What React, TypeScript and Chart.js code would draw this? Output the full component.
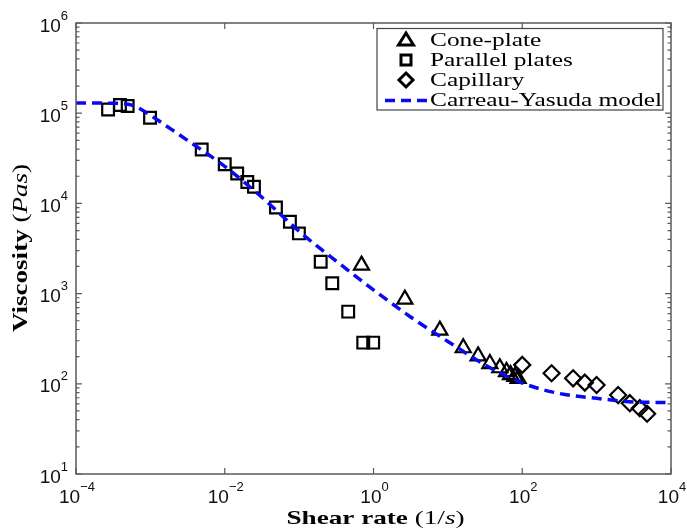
import React, { useEffect, useRef } from 'react';
import { Chart, registerables } from 'chart.js';

Chart.register(...registerables);

// ---------- data ----------
const conePlateX = [0.69, 2.64, 7.8, 16.1, 25.5, 36.7, 50, 61.5, 69.6, 79.6, 88];
const conePlateY = [2060, 865, 392, 250, 203, 167, 150, 136, 126, 120, 114];

const parallelPlatesX = [2.7e-4, 3.9e-4, 4.95e-4, 9.9e-4, 4.9e-3, 0.01, 0.0147, 0.0201, 0.0247, 0.0488, 0.0752, 0.0993, 0.195, 0.279, 0.457, 0.728, 0.99];
const parallelPlatesY = [1.1e5, 1.23e5, 1.2e5, 8.9e4, 3.96e4, 2.72e4, 2.15e4, 1.73e4, 1.53e4, 9.0e3, 6.25e3, 4.65e3, 2.25e3, 1.3e3, 631, 286, 286];

const capillaryX = [100, 248, 483, 693, 998, 1945, 2794, 3808, 4775];
const capillaryY = [162, 131, 115, 103, 97, 75, 61, 53.7, 46.5];

const modelX = [1e-4, 3.16e-4, 5.62e-4, 1e-3, 1.78e-3, 3.16e-3, 1e-2, 3.16e-2, 0.1, 0.316, 1, 3.16, 10, 31.6, 100, 316, 1000, 3162, 1e4];
const modelY = [1.3e5, 1.29e5, 1.23e5, 9.5e4, 6.9e4, 5.0e4, 2.57e4, 1.17e4, 4.9e3, 2.29e3, 1.1e3, 550, 295, 162, 102, 78, 69, 63, 62];

const xTickExponents = [-4, -2, 0, 2, 4];
const yTickExponents = [1, 2, 3, 4, 5, 6];

const seriesLabels = ['Cone-plate', 'Parallel plates', 'Capillary', 'Carreau-Yasuda model'];

// ---------- styling ----------
const W = 687;
const H = 531;
const SERIF = '"Liberation Serif", "Times New Roman", serif';
const SANS = '"Liberation Sans", Arial, sans-serif';
const AXIS_COLOR = '#5a5a5a';
const MODEL_COLOR = '#0a0af0';

const pts = (xs: number[], ys: number[]) => xs.map((x, i) => ({ x, y: ys[i] }));

type Seg = { t: string; f: string };

function drawRich(ctx: CanvasRenderingContext2D, segs: Seg[], x: number, y: number, targetWidth: number) {
  let total = 0;
  const widths = segs.map((s) => {
    ctx.font = s.f;
    const w = ctx.measureText(s.t).width;
    total += w;
    return w;
  });
  const sx = targetWidth / total;
  ctx.save();
  ctx.translate(x, y);
  ctx.scale(sx, 1);
  ctx.textAlign = 'left';
  ctx.textBaseline = 'alphabetic';
  let cx = -total / 2;
  segs.forEach((s, i) => {
    ctx.font = s.f;
    ctx.fillText(s.t, cx, 0);
    cx += widths[i];
  });
  ctx.restore();
}

function drawPow(ctx: CanvasRenderingContext2D, exp: number, x: number, y: number, align: 'center' | 'right') {
  const base = '10';
  const e = exp < 0 ? '\u2212' + Math.abs(exp) : String(exp);
  const bf = `19px ${SANS}`;
  const ef = `13px ${SANS}`;
  ctx.font = bf;
  const wb = ctx.measureText(base).width;
  ctx.font = ef;
  const we = ctx.measureText(e).width;
  const start = align === 'center' ? x - (wb + we) / 2 : x - wb - we;
  ctx.textAlign = 'left';
  ctx.textBaseline = 'alphabetic';
  ctx.font = bf;
  ctx.fillText(base, start, y);
  ctx.font = ef;
  ctx.fillText(e, start + wb, y - 12);
}

const decoPlugin = {
  id: 'deco',
  afterDraw(chart: any) {
    const { ctx, chartArea: a, scales } = chart;
    const xs = scales.x;
    const ys = scales.y;
    ctx.save();

    // box
    ctx.strokeStyle = AXIS_COLOR;
    ctx.lineWidth = 1.5;
    ctx.strokeRect(a.left, a.top, a.right - a.left, a.bottom - a.top);

    // ticks
    ctx.lineWidth = 1.2;
    ctx.beginPath();
    const yMin = yTickExponents[0];
    const yMax = yTickExponents[yTickExponents.length - 1];
    for (let e = yMin; e <= yMax; e++) {
      for (let m = 1; m <= 9; m++) {
        const v = m * Math.pow(10, e);
        if (v > Math.pow(10, yMax) * 1.0001) break;
        const py = ys.getPixelForValue(v);
        const len = m === 1 ? 6 : 3.5;
        ctx.moveTo(a.left, py);
        ctx.lineTo(a.left + len, py);
        ctx.moveTo(a.right, py);
        ctx.lineTo(a.right - len, py);
      }
    }
    xTickExponents.forEach((e) => {
      const px = xs.getPixelForValue(Math.pow(10, e));
      ctx.moveTo(px, a.bottom);
      ctx.lineTo(px, a.bottom - 6);
      ctx.moveTo(px, a.top);
      ctx.lineTo(px, a.top + 6);
    });
    ctx.stroke();

    // tick labels
    ctx.fillStyle = '#111';
    xTickExponents.forEach((e) => {
      const px = xs.getPixelForValue(Math.pow(10, e));
      drawPow(ctx, e, px + 1, a.bottom + 29, 'center');
    });
    yTickExponents.forEach((e) => {
      const py = ys.getPixelForValue(Math.pow(10, e));
      drawPow(ctx, e, a.left - 8, py + 8.5, 'right');
    });

    // axis titles
    ctx.fillStyle = '#000';
    drawRich(
      ctx,
      [
        { t: 'Shear rate ', f: `bold 19px ${SERIF}` },
        { t: '(1/', f: `19px ${SERIF}` },
        { t: 's', f: `italic 19px ${SERIF}` },
        { t: ')', f: `19px ${SERIF}` },
      ],
      (a.left + a.right) / 2 + 2,
      a.bottom + 50,
      178
    );
    ctx.save();
    ctx.translate(27, 248);
    ctx.rotate(-Math.PI / 2);
    drawRich(
      ctx,
      [
        { t: 'Viscosity ', f: `bold 22px ${SERIF}` },
        { t: '(', f: `22px ${SERIF}` },
        { t: 'Pas', f: `italic 22px ${SERIF}` },
        { t: ')', f: `22px ${SERIF}` },
      ],
      0,
      0,
      168
    );
    ctx.restore();

    // legend
    const lx0 = 377, ly0 = 28.5, lx1 = 663, ly1 = 110;
    ctx.fillStyle = '#fff';
    ctx.fillRect(lx0, ly0, lx1 - lx0, ly1 - ly0);
    ctx.strokeStyle = '#444';
    ctx.lineWidth = 1.2;
    ctx.strokeRect(lx0, ly0, lx1 - lx0, ly1 - ly0);

    const rows = [39.5, 60, 80, 100.5];
    const baselines = [45.5, 65.8, 86, 106.3];
    const mx = 406;
    ctx.strokeStyle = '#000';
    ctx.lineWidth = 3;
    ctx.lineJoin = 'miter';
    // triangle
    ctx.beginPath();
    ctx.moveTo(mx, rows[0] - 6.5);
    ctx.lineTo(mx + 7.5, rows[0] + 5.5);
    ctx.lineTo(mx - 7.5, rows[0] + 5.5);
    ctx.closePath();
    ctx.stroke();
    // square
    ctx.strokeRect(mx - 5, rows[1] - 5, 10, 10);
    // diamond
    ctx.beginPath();
    ctx.moveTo(mx, rows[2] - 7);
    ctx.lineTo(mx + 7, rows[2]);
    ctx.lineTo(mx, rows[2] + 7);
    ctx.lineTo(mx - 7, rows[2]);
    ctx.closePath();
    ctx.stroke();
    // dashed line
    ctx.strokeStyle = MODEL_COLOR;
    ctx.lineWidth = 3.5;
    ctx.setLineDash([10, 6]);
    ctx.beginPath();
    ctx.moveTo(385, rows[3]);
    ctx.lineTo(428, rows[3]);
    ctx.stroke();
    ctx.setLineDash([]);

    // legend texts
    ctx.fillStyle = '#000';
    ctx.font = `18.5px ${SERIF}`;
    const sx = 232 / ctx.measureText(seriesLabels[3]).width;
    ctx.textAlign = 'left';
    ctx.textBaseline = 'alphabetic';
    seriesLabels.forEach((lab, i) => {
      ctx.save();
      ctx.translate(430, baselines[i]);
      ctx.scale(sx, 1);
      ctx.fillText(lab, 0, 0);
      ctx.restore();
    });

    ctx.restore();
  },
};

export default function App() {
  const ref = useRef<HTMLCanvasElement>(null);
  useEffect(() => {
    document.body.style.margin = '0';
    document.body.style.overflow = 'hidden';
    const marker = {
      borderColor: '#000',
      backgroundColor: 'rgba(0,0,0,0)',
      borderWidth: 2.2,
      showLine: false,
      order: 1,
    };
    const chart = new Chart(ref.current as HTMLCanvasElement, {
      type: 'scatter',
      data: {
        datasets: [
          { ...marker, label: seriesLabels[0], data: pts(conePlateX, conePlateY), pointStyle: 'triangle', pointRadius: 8.7, pointHoverRadius: 8.7 },
          { ...marker, label: seriesLabels[1], data: pts(parallelPlatesX, parallelPlatesY), pointStyle: 'rect', pointRadius: 8.3, pointHoverRadius: 8.3 },
          { ...marker, label: seriesLabels[2], data: pts(capillaryX, capillaryY), pointStyle: 'rectRot', pointRadius: 8, pointHoverRadius: 8 },
          {
            label: seriesLabels[3],
            data: pts(modelX, modelY),
            showLine: true,
            pointRadius: 0,
            pointHoverRadius: 0,
            borderColor: MODEL_COLOR,
            borderWidth: 3.5,
            borderDash: [10, 6],
            cubicInterpolationMode: 'monotone',
            fill: false,
            order: 0,
          } as any,
        ],
      },
      options: {
        responsive: false,
        animation: false,
        events: [],
        layout: { padding: { left: 76, right: 16, top: 23, bottom: 57 } },
        plugins: { legend: { display: false }, tooltip: { enabled: false } },
        scales: {
          x: { type: 'logarithmic', min: 1e-4, max: 1e4, display: false },
          y: { type: 'logarithmic', min: 10, max: 1e6, display: false },
        },
      },
      plugins: [decoPlugin],
    } as any);
    return () => chart.destroy();
  }, []);
  return (
    <div style={{ width: W, height: H }}>
      <canvas ref={ref} width={W} height={H} style={{ display: 'block' }} />
    </div>
  );
}
